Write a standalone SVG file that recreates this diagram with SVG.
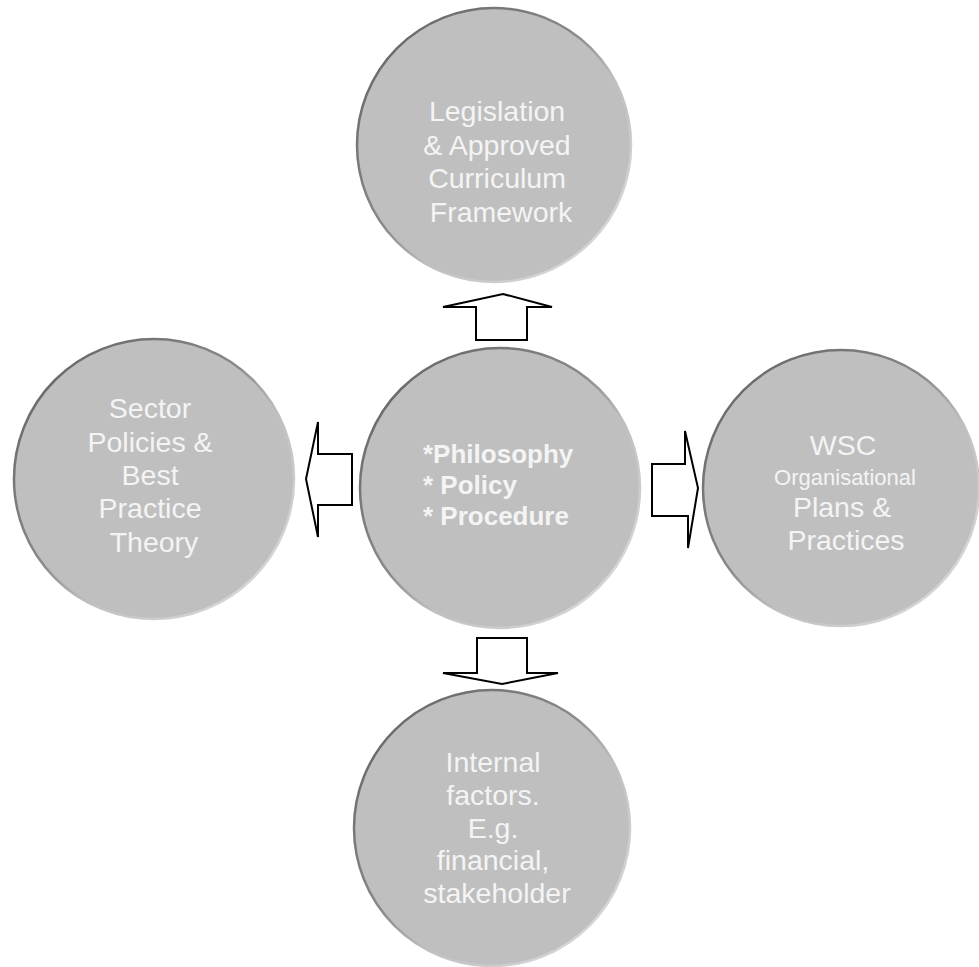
<svg xmlns="http://www.w3.org/2000/svg" width="979" height="967" viewBox="0 0 979 967">
  <defs>
    <!-- rim: dark at upper-left, light at lower-right -->
    <linearGradient id="rim" x1="0" y1="0" x2="1" y2="1">
      <stop offset="0" stop-color="#5e5e5e"/>
      <stop offset="0.45" stop-color="#8a8a8a"/>
      <stop offset="0.6" stop-color="#bfbfbf"/>
      <stop offset="1" stop-color="#e2e2e2"/>
    </linearGradient>
  </defs>
  <style>
    .disc { fill: #bfbfbf; stroke: url(#rim); stroke-width: 2.5; }
    .lbl { font-family: "Liberation Sans", Arial, sans-serif; font-size: 28.5px; fill: #f4f4f4; text-anchor: middle; }
    .small { font-size: 22px; }
    .core { font-family: "Liberation Sans", Arial, sans-serif; font-size: 26px; font-weight: bold; fill: #f4f4f4; }
    .arrow { fill: #ffffff; stroke: #000000; stroke-width: 2; stroke-linejoin: miter; }
  </style>

  <rect width="979" height="967" fill="#ffffff"/>

  <g id="node-legislation">
    <circle class="disc" cx="494" cy="145" r="137"/>
    <text class="lbl" x="501">
      <tspan x="501" y="121">Legislation</tspan>
      <tspan x="501" y="155">&amp; Approved</tspan>
      <tspan x="501" y="188">Curriculum</tspan>
      <tspan x="501" y="222">Framework</tspan>
    </text>
  </g>

  <g id="node-sector">
    <circle class="disc" cx="154" cy="479" r="140"/>
    <text class="lbl">
      <tspan x="154" y="418">Sector</tspan>
      <tspan x="154" y="452">Policies &amp;</tspan>
      <tspan x="154" y="485">Best</tspan>
      <tspan x="154" y="518">Practice</tspan>
      <tspan x="154" y="552">Theory</tspan>
    </text>
  </g>

  <g id="node-core">
    <circle class="disc" cx="500" cy="488" r="140"/>
    <text class="core">
      <tspan x="423" y="463">*Philosophy</tspan>
      <tspan x="423" y="494">* Policy</tspan>
      <tspan x="423" y="525">* Procedure</tspan>
    </text>
  </g>

  <g id="node-wsc">
    <circle class="disc" cx="841" cy="488" r="138"/>
    <text class="lbl">
      <tspan x="847" y="455">WSC</tspan>
      <tspan class="small" x="849" y="485">Organisational</tspan>
      <tspan x="846" y="517">Plans &amp;</tspan>
      <tspan x="846" y="550">Practices</tspan>
    </text>
  </g>

  <g id="node-internal">
    <circle class="disc" cx="492" cy="828" r="138"/>
    <text class="lbl">
      <tspan x="497" y="772">Internal</tspan>
      <tspan x="497" y="805">factors.</tspan>
      <tspan x="497" y="838">E.g.</tspan>
      <tspan x="497" y="870">financial,</tspan>
      <tspan x="497" y="903">stakeholder</tspan>
    </text>
  </g>

  <g id="connectors">
    <!-- up -->
    <polygon class="arrow" points="476,340 527,340 527,307 552,307 503,294 443,307 476,307"/>
    <!-- left -->
    <polygon class="arrow" points="352,454 352,505 318,505 318,537 306,479 318,422 318,454"/>
    <!-- right -->
    <polygon class="arrow" points="652,464 685,464 685,431 698,488 688,548 688,516 652,516"/>
    <!-- down -->
    <polygon class="arrow" points="477,638 527,638 527,673 558,673 502,684 443,673 477,673"/>
  </g>
</svg>
